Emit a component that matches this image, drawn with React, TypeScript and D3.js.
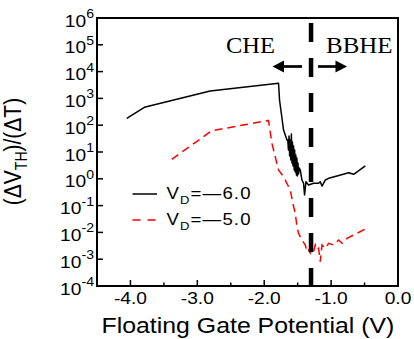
import React from 'react';
import * as d3 from 'd3';

const xMajorTicks = [-4, -3, -2, -1, 0];
const xMinorTicks = [-3.5, -2.5, -1.5, -0.5];
const xTickLabels = ['-4.0', '-3.0', '-2.0', '-1.0', '0.0'];
const yExponents = [6, 5, 4, 3, 2, 1, 0, -1, -2, -3, -4];

// V_D = -6.0 (black, solid)
const blackV = [
  -4.055, -3.792, -2.808, -1.786, -1.771, -1.735, -1.711, -1.66,
  -1.648, -1.638, -1.629, -1.62, -1.611, -1.602, -1.594, -1.585, -1.578, -1.569, -1.561, -1.552,
  -1.545, -1.536, -1.528, -1.519, -1.512, -1.504, -1.496, -1.487, -1.476, -1.461,
  -1.436, -1.412, -1.397, -1.376, -1.337, -1.262, -1.187, -1.162, -1.136, -1.087, -1.037,
  -0.912, -0.738, -0.663, -0.488,
];
const blackVal = [
  181, 466, 1890, 3660, 871, 186, 66, 28,
  28.1, 11.9, 39.5, 7.09, 28.1, 5.03, 47, 3.89, 23.6, 3.01, 16.7, 2.13,
  11.9, 1.79, 7.73, 1.39, 5.97, 1.27, 3.89, 1.51, 2.53, 2.13,
  0.9, 0.68, 0.249, 0.78, 0.587, 0.68, 0.68, 0.78, 0.538, 0.9, 1.04,
  1.27, 1.69, 1.47, 3.01,
];

// V_D = -5.0 (red, dashed)
const redV = [
  -3.382, -2.783, -1.936, -1.885, -1.786, -1.711, -1.611, -1.566, -1.536, -1.51, -1.487, -1.436,
  -1.386, -1.361, -1.337, -1.311, -1.286, -1.262, -1.237, -1.211, -1.187, -1.162, -1.136, -1.087,
  -1.037, -0.963, -0.888, -0.837, -0.762, -0.663, -0.488,
];
const redVal = [
  5.35, 62.4, 150, 21.1, 2.13, 1.2, 0.382, 0.105, 0.0516, 0.0163, 0.00925, 0.0052,
  0.00339, 0.00191, 0.0022, 0.0017, 0.00255, 0.00191, 0.00339, 0.0022, 0.00255, 0.00081, 0.00339, 0.00255,
  0.00392, 0.00339, 0.0052, 0.00392, 0.006, 0.008, 0.0134,
];

const boundaryV = -1.3;
const legendLabels = ['6.0', '5.0'];

const W = 414;
const H = 339;
const SX = 1.13;
const sans = 'Liberation Sans, Arial, Helvetica, sans-serif';
const serif = 'Liberation Serif, Times New Roman, serif';

export default function App() {
  const x = d3.scaleLinear().domain([-4.5, 0]).range([97, 398]);
  const y = d3.scaleLog().domain([1e-4, 1e6]).range([286, 18]);
  const line = d3
    .line<[number, number]>()
    .x((d) => x(d[0]))
    .y((d) => y(d[1]));
  const blackPts = blackV.map((v, i) => [v, blackVal[i]] as [number, number]);
  const redPts = redV.map((v, i) => [v, redVal[i]] as [number, number]);
  const bx = x(boundaryV);
  const [x0, x1] = x.range();
  const [y0, y1] = y.range();

  return (
    <svg
      width={W}
      height={H}
      style={{ position: 'absolute', left: 0, top: 0, background: '#fff' }}
    >
      <rect x={0} y={0} width={W} height={H} fill="#fff" />
      {/* data */}
      <path d={line(redPts) || ''} fill="none" stroke="#ff0000" strokeWidth={1.5} strokeDasharray="8,5" />
      <path d={line(blackPts) || ''} fill="none" stroke="#000" strokeWidth={1.5} strokeLinejoin="round" />

      {/* boundary */}
      <line x1={bx} x2={bx} y1={23} y2={y0} stroke="#000" strokeWidth={4.5} strokeDasharray="19,16" />

      {/* frame */}
      <rect x={x0} y={y1} width={x1 - x0} height={y0 - y1} fill="none" stroke="#000" strokeWidth={2} />

      {/* x ticks */}
      {xMajorTicks.map((t) => (
        <line key={'xt' + t} x1={x(t)} x2={x(t)} y1={y0} y2={y0 - 6} stroke="#000" strokeWidth={1.5} />
      ))}
      {xMinorTicks.map((t) => (
        <line key={'xm' + t} x1={x(t)} x2={x(t)} y1={y0} y2={y0 - 3.5} stroke="#000" strokeWidth={1.5} />
      ))}
      {xMajorTicks.map((t, i) => (
        <g key={'xl' + t} transform={`translate(${x(t)},303.5) scale(${SX},1)`}>
          <text textAnchor="middle" fontFamily={sans} fontSize={17} fill="#000">
            {xTickLabels[i]}
          </text>
        </g>
      ))}

      {/* y ticks */}
      {yExponents.map((e) => (
        <line key={'yt' + e} x1={x0} x2={x0 + 6} y1={y(Math.pow(10, e))} y2={y(Math.pow(10, e))} stroke="#000" strokeWidth={1.5} />
      ))}
      {yExponents.map((e) => (
        <g key={'yl' + e} transform={`translate(94,${y(Math.pow(10, e)) + 8.5}) scale(${SX},1)`}>
          <text textAnchor="end" fontFamily={sans} fontSize={17} fill="#000">
            10
            <tspan fontSize={12.5} dy={-8.5}>
              {e < 0 ? '-' + Math.abs(e) : String(e)}
            </tspan>
          </text>
        </g>
      ))}

      {/* axis titles */}
      <g transform={`translate(101.5,333) scale(${SX},1)`}>
        <text fontFamily={sans} fontSize={22} fill="#000">
          Floating Gate Potential (V)
        </text>
      </g>
      <g transform={`translate(21,151.5) scale(${SX},1) rotate(-90)`}>
        <text textAnchor="middle" fontFamily={sans} fontSize={21} fill="#000">
          (ΔV
          <tspan fontSize={14} dy={5}>TH</tspan>
          <tspan dy={-5}>)/(ΔT)</tspan>
        </text>
      </g>

      {/* regime labels */}
      <g transform={`translate(226,53) scale(1.02,1)`}>
        <text fontFamily={serif} fontSize={24} fill="#000">CHE</text>
      </g>
      <g transform={`translate(326,53) scale(1.04,1)`}>
        <text fontFamily={serif} fontSize={24} fill="#000">BBHE</text>
      </g>
      {/* arrows */}
      <line x1={302} x2={282} y1={66.5} y2={66.5} stroke="#000" strokeWidth={2.7} />
      <path d={`M272.5,66.5 L284,60.5 L284,72.5 Z`} fill="#000" />
      <line x1={318} x2={337} y1={66.5} y2={66.5} stroke="#000" strokeWidth={2.7} />
      <path d={`M347,66.5 L335.5,60.5 L335.5,72.5 Z`} fill="#000" />

      {/* legend */}
      <line x1={132.5} x2={157} y1={194} y2={194} stroke="#000" strokeWidth={1.5} />
      <line x1={132.5} x2={157} y1={220} y2={220} stroke="#ff0000" strokeWidth={1.5} strokeDasharray="8,7" />
      {legendLabels.map((lab, i) => (
        <g key={'lg' + i} transform={`translate(166.5,${198.5 + i * 26}) scale(${SX},1)`}>
          <text fontFamily={sans} fontSize={16.5} fill="#000" letterSpacing={1}>
            V<tspan fontSize={11.5} dy={5}>D</tspan>
            <tspan dy={-5}>=—{lab}</tspan>
          </text>
        </g>
      ))}
    </svg>
  );
}
